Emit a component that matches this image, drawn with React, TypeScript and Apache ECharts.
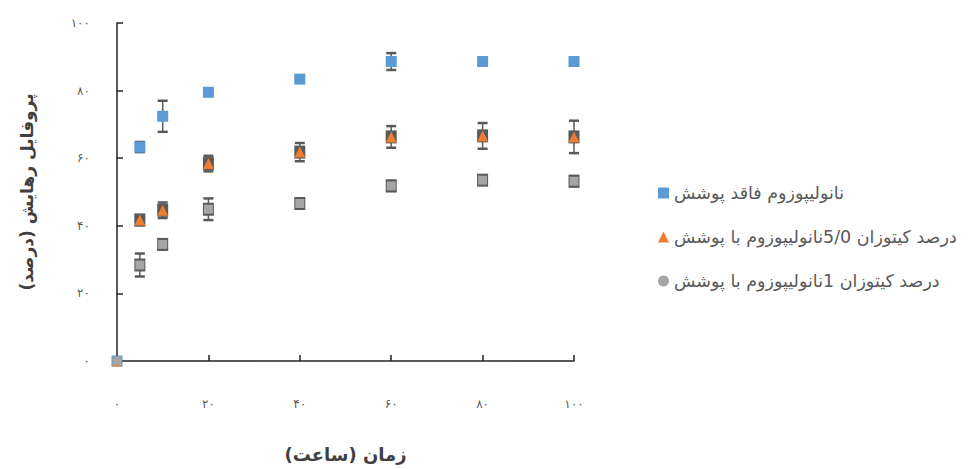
import React, { useEffect, useRef } from "react";
import * as echarts from "echarts";

const xValues = [0, 5, 10, 20, 40, 60, 80, 100];
const uncoated = [0, 63.3, 72.4, 79.5, 83.4, 88.6, 88.6, 88.6];
const uncoatedErr = [0, 1.5, 4.6, 0.4, 0.4, 2.5, 0.4, 1];
const chitosan05 = [0, 41.7, 44.6, 58.4, 61.8, 66.3, 66.6, 66.3];
const chitosan05Err = [0, 1.5, 2.3, 2.3, 2.7, 3.2, 3.8, 4.8];
const chitosan1 = [0, 28.4, 34.5, 44.9, 46.6, 51.8, 53.5, 53.2];
const chitosan1Err = [0, 3.4, 1.5, 3.2, 1, 1.5, 1.2, 1.5];

const tickLabels = ["۰", "۲۰", "۴۰", "۶۰", "۸۰", "۱۰۰"];

const RLE = "\u202B";
const PDF = "\u202C";
const seriesNames = [
  RLE + "نانولیپوزوم فاقد پوشش" + PDF,
  RLE + "درصد کیتوزان 5/0نانولیپوزوم با پوشش" + PDF,
  RLE + "درصد کیتوزان 1نانولیپوزوم با پوشش" + PDF,
];
const xTitle = RLE + "زمان (ساعت)" + PDF;
const yTitle = RLE + "پروفایل رهایش (درصد)" + PDF;

const colors = ["#5b9bd5", "#ed7d31", "#a5a5a5"];
const errColor = "#595959";
const FONT = "'DejaVu Sans', sans-serif";

function errSeries(vals: number[], errs: number[], withBox: boolean) {
  return {
    type: "custom",
    z: 1,
    silent: true,
    clip: false,
    encode: { x: 0, y: 1 },
    data: xValues.map((x, i) => [x, vals[i], errs[i]]),
    renderItem: (params: any, api: any) => {
      const x = api.value(0);
      const y = api.value(1);
      const e = api.value(2);
      const c = api.coord([x, y]);
      const t = api.coord([x, y + e]);
      const b = api.coord([x, y - e]);
      const children: any[] = [];
      if (withBox && x > 0) {
        children.push({
          type: "rect",
          shape: { x: c[0] - 5.5, y: c[1] - 6.5, width: 11, height: 13 },
          style: { fill: errColor },
        });
      }
      if (e > 0) {
        children.push({
          type: "line",
          shape: { x1: c[0], y1: t[1], x2: c[0], y2: b[1] },
          style: { stroke: errColor, lineWidth: 1.5 },
        });
        children.push({
          type: "line",
          shape: { x1: c[0] - 5, y1: t[1], x2: c[0] + 5, y2: t[1] },
          style: { stroke: errColor, lineWidth: 2.5 },
        });
        children.push({
          type: "line",
          shape: { x1: c[0] - 5, y1: b[1], x2: c[0] + 5, y2: b[1] },
          style: { stroke: errColor, lineWidth: 2.5 },
        });
      }
      return { type: "group", children };
    },
  };
}

export default function App() {
  const ref = useRef<HTMLDivElement>(null);
  useEffect(() => {
    if (!ref.current) return;
    const chart = echarts.init(ref.current, null, { renderer: "svg" });
    const axisCommon = {
      type: "value",
      min: 0,
      max: 100,
      interval: 20,
      splitLine: { show: false },
      axisLine: { show: true, lineStyle: { color: "#222", width: 1.5 } },
      axisTick: { show: true, inside: true, length: 6, lineStyle: { color: "#222", width: 1.5 } },
    };
    chart.setOption({
      animation: false,
      backgroundColor: "#fff",
      textStyle: { fontFamily: FONT },
      grid: { left: 117, top: 23, width: 457, height: 338 },
      legend: {
        orient: "vertical",
        left: 653,
        top: 179,
        itemGap: 26,
        itemWidth: 11,
        itemHeight: 11,
        textStyle: { fontFamily: FONT, fontSize: 17.5, color: "#595959" },
        data: [
          { name: seriesNames[0], icon: "rect" },
          { name: seriesNames[1], icon: "triangle" },
          { name: seriesNames[2], icon: "circle" },
        ],
      },
      xAxis: {
        ...axisCommon,
        name: xTitle,
        nameLocation: "middle",
        nameGap: 84,
        nameTextStyle: { fontFamily: FONT, fontSize: 18, fontWeight: "bold", color: "#404040" },
        axisLabel: {
          margin: 37,
          fontSize: 12,
          color: "#595959",
          fontFamily: FONT,
          formatter: (v: number) => tickLabels[Math.round(v / 20)],
        },
      },
      yAxis: {
        ...axisCommon,
        name: yTitle,
        nameLocation: "middle",
        nameGap: 82,
        nameRotate: 90,
        nameTextStyle: { fontFamily: FONT, fontSize: 17, fontWeight: "bold", color: "#404040" },
        axisLabel: {
          margin: 27,
          fontSize: 12,
          color: "#595959",
          fontFamily: FONT,
          formatter: (v: number) => tickLabels[Math.round(v / 20)],
        },
      },
      series: [
        errSeries(uncoated, uncoatedErr, false),
        errSeries(chitosan05, chitosan05Err, true),
        errSeries(chitosan1, chitosan1Err, true),
        {
          name: seriesNames[0],
          type: "scatter",
          z: 2,
          clip: false,
          symbol: "rect",
          symbolSize: 11,
          itemStyle: { color: colors[0], opacity: 1 },
          data: xValues.map((x, i) => [x, uncoated[i]]),
        },
        {
          name: seriesNames[1],
          type: "scatter",
          z: 2,
          clip: false,
          symbol: "triangle",
          symbolSize: 11,
          itemStyle: { color: colors[1], opacity: 1 },
          data: xValues.map((x, i) => [x, chitosan05[i]]),
        },
        {
          name: seriesNames[2],
          type: "scatter",
          z: 2,
          clip: false,
          symbol: "rect",
          symbolSize: 9,
          itemStyle: { color: colors[2], opacity: 1 },
          data: xValues.map((x, i) => [x, chitosan1[i]]),
        },
      ],
    });
    return () => chart.dispose();
  }, []);
  return (
    <div
      ref={ref}
      style={{ position: "fixed", left: 0, top: 0, width: 969, height: 469, background: "#fff" }}
    />
  );
}
